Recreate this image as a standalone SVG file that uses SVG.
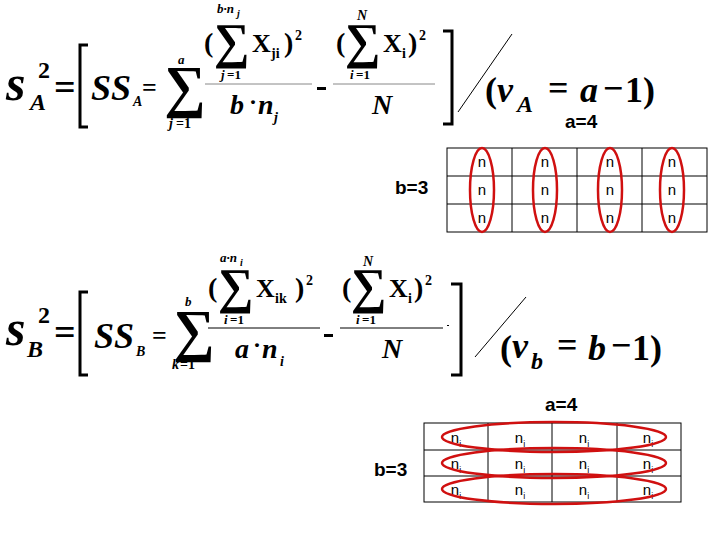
<svg xmlns="http://www.w3.org/2000/svg" width="720" height="540" viewBox="0 0 720 540">
<style>
.f{font-family:"Liberation Serif",serif;font-weight:bold;font-style:italic;fill:#000}
.u{font-family:"Liberation Serif",serif;font-weight:bold;fill:#000}
.s{font-family:"Liberation Sans",Arial,sans-serif;font-weight:bold;fill:#000}
.n{font-family:"Liberation Sans",Arial,sans-serif;fill:#000;font-size:15px;text-anchor:middle}
.ln{stroke:#000;fill:none}
.el{stroke:#d01010;stroke-width:2.5;fill:none}
</style>
<rect width="720" height="540" fill="#fff"/>
<g id="formulaA">
<text x="6" y="100" class="f" font-size="50">s</text>
<text x="38" y="78" class="u" font-size="24">2</text>
<text x="30" y="110" class="f" font-size="24">A</text>
<text x="54" y="100" class="u" font-size="38">=</text>
<path d="M88 45 H80 V127 H88" class="ln" stroke-width="3"/>
<text x="91" y="100" class="f" font-size="36">SS</text>
<text x="133" y="106" class="f" font-size="14">A</text>
<text x="142" y="96" class="u" font-size="26">=</text>
<text x="164" y="106" class="u" font-size="58">∑</text>
<text x="178" y="64" class="f" font-size="13">a</text>
<text x="169" y="128" class="f" font-size="14">j</text><text x="176" y="128" class="u" font-size="14">=1</text>
<text x="204" y="52" class="u" font-size="28">(</text>
<text x="214" y="58" class="u" font-size="50">∑</text>
<text x="217" y="13" class="f" font-size="13">b·n</text><text x="237" y="17" class="f" font-size="10">j</text>
<text x="221" y="79" class="f" font-size="13">j</text><text x="227" y="79" class="u" font-size="13">=1</text>
<text x="252" y="52" class="u" font-size="26">X</text><text x="271" y="58" class="u" font-size="14">ji</text>
<text x="284" y="52" class="u" font-size="28">)</text><text x="295" y="40" class="u" font-size="14">2</text>
<line x1="205" y1="84" x2="312" y2="84" stroke="#888" stroke-width="1"/>
<text x="230" y="114" class="f" font-size="28">b</text><text x="249" y="110" class="u" font-size="24">·</text><text x="258" y="114" class="f" font-size="28">n</text><text x="274" y="122" class="f" font-size="14">j</text>
<rect x="317" y="87" width="9" height="3" fill="#000"/>
<text x="336" y="52" class="u" font-size="28">(</text>
<text x="345" y="58" class="u" font-size="50">∑</text>
<text x="357" y="20" class="f" font-size="14">N</text>
<text x="350" y="79" class="f" font-size="13">i</text><text x="356" y="79" class="u" font-size="13">=1</text>
<text x="383" y="52" class="u" font-size="26">X</text><text x="402" y="58" class="u" font-size="14">i</text>
<text x="408" y="52" class="u" font-size="28">)</text><text x="419" y="40" class="u" font-size="14">2</text>
<line x1="333" y1="84" x2="435" y2="84" stroke="#888" stroke-width="1"/>
<text x="372" y="114" class="f" font-size="28">N</text>
<path d="M443 31 H452 V124 H443" class="ln" stroke-width="3"/>
<line x1="458" y1="112" x2="512" y2="34" class="ln" stroke-width="1"/>
<text x="485" y="102" class="u" font-size="36">(</text>
<text x="497" y="102" class="f" font-size="36">ν</text>
<text x="517" y="112" class="f" font-size="24">A</text>
<text x="548" y="100" class="u" font-size="36">=</text>
<text x="580" y="102" class="f" font-size="36">a</text>
<text x="603" y="100" class="u" font-size="36">−</text>
<text x="625" y="102" class="u" font-size="36">1)</text>
</g>
<g id="tableA">
<text x="565" y="128" class="s" font-size="19">a=4</text>
<text x="395" y="194" class="s" font-size="19">b=3</text>
<rect x="447" y="148" width="260" height="84" class="ln" stroke-width="1"/>
<path d="M447 176 H707 M447 204 H707 M512 148 V232 M577 148 V232 M642 148 V232" class="ln" stroke-width="1"/>
<g>
<text x="482" y="167" class="n">n</text><text x="482" y="195" class="n">n</text><text x="482" y="223" class="n">n</text>
<text x="545" y="167" class="n">n</text><text x="545" y="195" class="n">n</text><text x="545" y="223" class="n">n</text>
<text x="610" y="167" class="n">n</text><text x="610" y="195" class="n">n</text><text x="610" y="223" class="n">n</text>
<text x="672" y="167" class="n">n</text><text x="672" y="195" class="n">n</text><text x="672" y="223" class="n">n</text>
</g>
<ellipse cx="482" cy="190" rx="12" ry="42" class="el"/>
<ellipse cx="545" cy="190" rx="12" ry="42" class="el"/>
<ellipse cx="610" cy="190" rx="12" ry="42" class="el"/>
<ellipse cx="672" cy="190" rx="12" ry="42" class="el"/>
</g>
<g id="formulaB">
<text x="6" y="345" class="f" font-size="50">s</text>
<text x="38" y="323" class="u" font-size="24">2</text>
<text x="27" y="357" class="f" font-size="24">B</text>
<text x="54" y="345" class="u" font-size="38">=</text>
<path d="M88 292 H80 V375 H88" class="ln" stroke-width="3"/>
<text x="94" y="348" class="f" font-size="36">SS</text>
<text x="136" y="356" class="f" font-size="14">B</text>
<text x="152" y="344" class="u" font-size="26">=</text>
<text x="173" y="350" class="u" font-size="58">∑</text>
<text x="185" y="306" class="f" font-size="13">b</text>
<text x="172" y="369" class="f" font-size="14">k</text><text x="180" y="369" class="u" font-size="14">=1</text>
<text x="208" y="297" class="u" font-size="28">(</text>
<text x="218" y="303" class="u" font-size="50">∑</text>
<text x="220" y="262" class="f" font-size="13">a·n</text><text x="240" y="266" class="f" font-size="10">i</text>
<text x="224" y="324" class="f" font-size="13">i</text><text x="230" y="324" class="u" font-size="13">=1</text>
<text x="256" y="297" class="u" font-size="26">X</text><text x="275" y="303" class="u" font-size="14">ik</text>
<text x="295" y="297" class="u" font-size="28">)</text><text x="306" y="285" class="u" font-size="14">2</text>
<line x1="208" y1="328" x2="320" y2="328" stroke="#000" stroke-width="1"/>
<text x="235" y="358" class="f" font-size="28">a</text><text x="253" y="353" class="u" font-size="24">·</text><text x="262" y="358" class="f" font-size="28">n</text><text x="280" y="366" class="f" font-size="14">i</text>
<rect x="324" y="334" width="9" height="3" fill="#000"/>
<text x="342" y="297" class="u" font-size="28">(</text>
<text x="351" y="303" class="u" font-size="50">∑</text>
<text x="363" y="266" class="f" font-size="14">N</text>
<text x="356" y="324" class="f" font-size="13">i</text><text x="362" y="324" class="u" font-size="13">=1</text>
<text x="389" y="297" class="u" font-size="26">X</text><text x="408" y="303" class="u" font-size="14">i</text>
<text x="414" y="297" class="u" font-size="28">)</text><text x="425" y="285" class="u" font-size="14">2</text>
<line x1="340" y1="328" x2="443" y2="328" stroke="#000" stroke-width="1"/>
<rect x="447" y="325" width="2" height="1" fill="#000"/>
<text x="382" y="358" class="f" font-size="28">N</text>
<path d="M451 284 H461 V375 H451" class="ln" stroke-width="3"/>
<line x1="475" y1="357" x2="526" y2="297" class="ln" stroke-width="1"/>
<text x="500" y="360" class="u" font-size="36">(</text>
<text x="512" y="358" class="f" font-size="36">ν</text>
<text x="531" y="369" class="f" font-size="24">b</text>
<text x="557" y="357" class="u" font-size="36">=</text>
<text x="588" y="360" class="f" font-size="36">b</text>
<text x="611" y="357" class="u" font-size="36">−</text>
<text x="632" y="360" class="u" font-size="36">1)</text>
</g>
<g id="tableB">
<text x="545" y="411" class="s" font-size="19">a=4</text>
<text x="374" y="476" class="s" font-size="19">b=3</text>
<rect x="424" y="423" width="257" height="79" class="ln" stroke-width="1"/>
<path d="M424 450 H681 M424 476 H681 M488 423 V502 M552 423 V502 M617 423 V502" class="ln" stroke-width="1"/>
<g>
<text x="456" y="443" class="n">n<tspan font-size="9" dy="4">i</tspan></text><text x="520" y="443" class="n">n<tspan font-size="9" dy="4">i</tspan></text><text x="584" y="443" class="n">n<tspan font-size="9" dy="4">i</tspan></text><text x="648" y="443" class="n">n<tspan font-size="9" dy="4">i</tspan></text>
<text x="456" y="469" class="n">n<tspan font-size="9" dy="4">i</tspan></text><text x="520" y="469" class="n">n<tspan font-size="9" dy="4">i</tspan></text><text x="584" y="469" class="n">n<tspan font-size="9" dy="4">i</tspan></text><text x="648" y="469" class="n">n<tspan font-size="9" dy="4">i</tspan></text>
<text x="456" y="495" class="n">n<tspan font-size="9" dy="4">i</tspan></text><text x="520" y="495" class="n">n<tspan font-size="9" dy="4">i</tspan></text><text x="584" y="495" class="n">n<tspan font-size="9" dy="4">i</tspan></text><text x="648" y="495" class="n">n<tspan font-size="9" dy="4">i</tspan></text>
</g>
<ellipse cx="554" cy="437" rx="112" ry="15" class="el"/>
<ellipse cx="554" cy="463" rx="112" ry="15" class="el"/>
<ellipse cx="554" cy="489" rx="112" ry="15" class="el"/>
</g>
</svg>
